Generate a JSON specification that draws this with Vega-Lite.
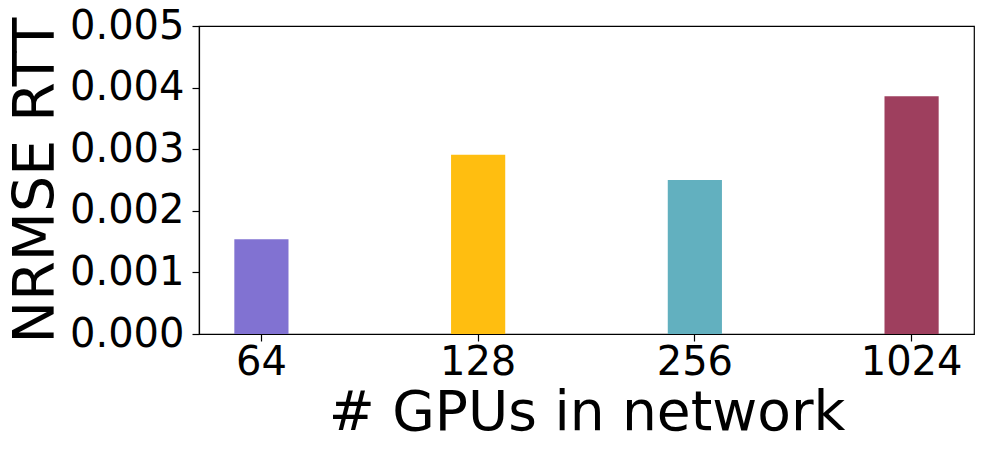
{
  "$schema": "https://vega.github.io/schema/vega-lite/v6.json",
  "width": 775,
  "height": 308,
  "autosize": {"type": "none"},
  "padding": {"left": 199, "top": 26, "right": 9, "bottom": 121},
  "background": "white",
  "config": {
    "view": {"stroke": "black", "strokeWidth": 1.2},
    "font": "DejaVu Sans",
    "axis": {
      "grid": false,
      "domainColor": "black",
      "tickColor": "black",
      "labelColor": "black",
      "titleColor": "black",
      "labelFont": "DejaVu Sans",
      "titleFont": "DejaVu Sans",
      "labelFontSize": 40,
      "titleFontSize": 55,
      "titleFontWeight": "normal",
      "tickSize": 7,
      "domainWidth": 1.2,
      "tickWidth": 1.2
    }
  },
  "data": {
    "values": [
      {"gpus": "64", "nrmse": 0.00154},
      {"gpus": "128", "nrmse": 0.00291},
      {"gpus": "256", "nrmse": 0.0025},
      {"gpus": "1024", "nrmse": 0.00386}
    ]
  },
  "mark": {"type": "bar"},
  "encoding": {
    "x": {
      "field": "gpus",
      "type": "nominal",
      "sort": ["64", "128", "256", "1024"],
      "scale": {"paddingInner": 0.75, "paddingOuter": 0.163},
      "axis": {"title": "# GPUs in network", "labelAngle": 0, "labelPadding": 1, "titlePadding": 4}
    },
    "y": {
      "field": "nrmse",
      "type": "quantitative",
      "scale": {"domain": [0, 0.005], "nice": false},
      "axis": {"title": "NRMSE RTT", "titleFontSize": 57, "values": [0, 0.001, 0.002, 0.003, 0.004, 0.005], "format": ".3f", "labelPadding": 8, "titlePadding": 4}
    },
    "color": {
      "field": "gpus",
      "type": "nominal",
      "scale": {"domain": ["64", "128", "256", "1024"], "range": ["#8172d2", "#ffbe10", "#62b0bf", "#9e3f5e"]},
      "legend": null
    }
  }
}
